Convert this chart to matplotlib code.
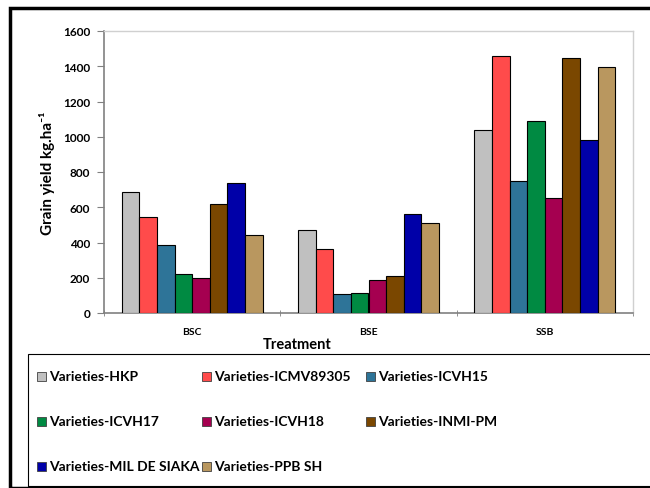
import matplotlib
matplotlib.use("Agg")
import matplotlib.pyplot as plt
from matplotlib.patches import Rectangle
import numpy as np

plt.rcParams['font.family'] = ['Lato', 'DejaVu Sans']

treatments = ['BSC', 'BSE', 'SSB']
varieties = ['Varieties-HKP', 'Varieties-ICMV89305', 'Varieties-ICVH15',
             'Varieties-ICVH17', 'Varieties-ICVH18', 'Varieties-INMI-PM',
             'Varieties-MIL DE SIAKA', 'Varieties-PPB SH']
colors = ['#C0C0C0', '#FF4B4B', '#2E7498', '#008A42',
          '#A50050', '#7A4700', '#0000A8', '#B9975F']

# grain yield per variety: BSC, BSE, SSB
hkp = [687, 470, 1036]
icmv89305 = [542, 364, 1458]
icvh15 = [386, 110, 748]
icvh17 = [220, 114, 1087]
icvh18 = [197, 186, 653]
inmi_pm = [619, 210, 1447]
mil_de_siaka = [737, 559, 981]
ppb_sh = [441, 508, 1398]
series = [hkp, icmv89305, icvh15, icvh17, icvh18, inmi_pm, mil_de_siaka, ppb_sh]

W, H = 650, 489
fig = plt.figure(figsize=(W / 100, H / 100), dpi=100)
ax = fig.add_axes([104 / W, 1 - 314 / H, (633 - 104) / W, (314 - 32) / H])

x = np.arange(len(treatments))
bw = 0.8 / len(series)
for i, (vals, c) in enumerate(zip(series, colors)):
    ax.bar(x - 0.4 + bw * (i + 0.5), vals, bw, color=c,
           edgecolor='black', linewidth=0.8, zorder=3)

ax.set_xlim(-0.5, 2.5)
ax.set_ylim(0, 1600)
ax.set_yticks(range(0, 1601, 200))
ax.set_xticks(x)
ax.set_xticklabels(treatments, fontsize=7.5, fontweight='bold')
ax.set_xticks([-0.5, 0.5, 1.5, 2.5], minor=True)
ax.tick_params(axis='x', which='major', length=0, pad=10)
ax.tick_params(axis='x', which='minor', length=5, color='#808080', direction='inout')
ax.tick_params(axis='y', length=5, color='#808080', labelsize=8.5, pad=5)
for lab in ax.get_yticklabels():
    lab.set_fontweight('bold')

for s in ['left', 'bottom']:
    ax.spines[s].set_color('#808080')
    ax.spines[s].set_linewidth(1.2)
for s in ['top', 'right']:
    ax.spines[s].set_color('#D0D0D0')
    ax.spines[s].set_linewidth(1.0)

ax.set_ylabel('Grain yield kg.ha\u207b\u00b9', fontsize=11,
              fontweight='bold', labelpad=6)
fig.text(297 / W, 1 - 345 / H, 'Treatment', fontsize=10.5, fontweight='bold',
         ha='center', va='center')

# outer frame
fig.patches.append(Rectangle((10 / W, 0), 1, 1 - 9 / H, transform=fig.transFigure,
                             fill=False, edgecolor='black', linewidth=2.5))

# legend box
fig.patches.append(Rectangle((28 / W, 2 / H), 1, (487 - 355) / H,
                             transform=fig.transFigure, fill=False,
                             edgecolor='black', linewidth=0.8))
col_x = [37, 202, 366]
row_y = [377, 422, 467]
for i, (name, c) in enumerate(zip(varieties, colors)):
    px = col_x[i % 3]
    py = row_y[i // 3]
    fig.patches.append(Rectangle((px / W, 1 - (py + 4.5) / H), 9 / W, 9 / H,
                                 transform=fig.transFigure, facecolor=c,
                                 edgecolor='#404040', linewidth=0.6))
    fig.text((px + 12) / W, 1 - py / H, name, fontsize=10, fontweight='bold',
             ha='left', va='center')

fig.savefig('out.png', dpi=100)
